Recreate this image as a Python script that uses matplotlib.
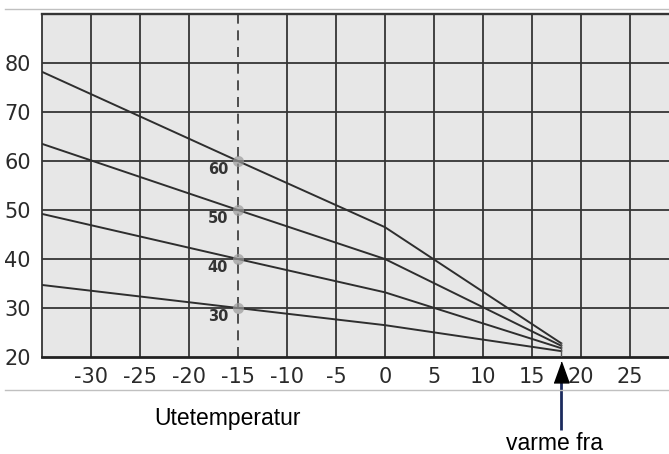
import matplotlib
matplotlib.use('Agg')
import matplotlib.pyplot as plt
from matplotlib.lines import Line2D

# outdoor temperature vs. flow temperature (heating curves)
x_pts = [-35, -15, 0, 18]
kurve_60 = [78.2, 60, 46.5, 22.8]
kurve_50 = [63.5, 50, 40, 22.3]
kurve_40 = [49.2, 40, 33.2, 21.8]
kurve_30 = [34.7, 30, 26.5, 21.2]
kurver = [kurve_60, kurve_50, kurve_40, kurve_30]
kurve_navn = ['60', '50', '40', '30']

dim_temp = -15
varme_fra = 18
x_ticks = [-30, -25, -20, -15, -10, -5, 0, 5, 10, 15, 20, 25]
y_ticks = [20, 30, 40, 50, 60, 70, 80]

fig = plt.figure(figsize=(6.69, 4.54), dpi=100)
ax = fig.add_axes([42/669, 97/454, 627/669, 343/454])
ax.set_facecolor('#e7e7e7')
ax.set_xlim(-35, 29)
ax.set_ylim(20, 90)

gridc = '#353535'
for xv in x_ticks:
    if xv != dim_temp:
        ax.axvline(xv, color=gridc, lw=1.3, zorder=1)
for yv in y_ticks[1:]:
    ax.axhline(yv, color=gridc, lw=1.3, zorder=1)

# dimensioning outdoor temperature
ax.axvline(dim_temp, color='#333333', lw=1.2, dashes=(6, 4), zorder=2)

for navn, kurve in zip(kurve_navn, kurver):
    ax.plot(x_pts, kurve, color='#2e2e2e', lw=1.4, zorder=3)
    val = float(navn)
    ax.plot([dim_temp], [val], 'o', ms=8, color='#9a9a9a', alpha=0.7, mec='none', zorder=4)
    ax.text(dim_temp - 1.0, val - 1.8, navn, ha='right', va='center',
            fontsize=10.5, fontweight='bold', color='#333333', zorder=5)

ax.plot([varme_fra, varme_fra], [20, kurve_60[-1]], color='#555555', lw=1.0, zorder=3)

ax.spines['right'].set_visible(False)
ax.spines['left'].set_color(gridc)
ax.spines['left'].set_linewidth(1.3)
ax.spines['top'].set_color(gridc)
ax.spines['top'].set_linewidth(1.7)
ax.spines['bottom'].set_color('#222222')
ax.spines['bottom'].set_linewidth(2.0)

ax.set_xticks(x_ticks)
ax.set_xticklabels([str(v) for v in x_ticks])
ax.set_yticks(y_ticks)
ax.tick_params(length=0, labelsize=15, labelcolor='#2a2a2a')
ax.tick_params(axis='x', pad=7)
ax.tick_params(axis='y', pad=8)

# arrow marking where heating starts
trans = ax.get_xaxis_transform()
ax.plot([varme_fra, varme_fra], [-0.07, -0.213], color='#1c2b5e', lw=2.0,
        transform=trans, clip_on=False, solid_capstyle='butt')
tri = [(-0.36, -0.5), (0.36, -0.5), (0.0, 0.5)]
ax.plot([varme_fra], [-0.045], marker=tri, ms=15, color='black', mec='black',
        transform=trans, clip_on=False, zorder=6)

fig.text(227/669, 29/454, 'Utetemperatur', ha='center', va='baseline',
         fontsize=16.5, family='Liberation Sans', color='black')
fig.text(555/669, 4/454, 'varme fra', ha='center', va='baseline',
         fontsize=16.5, family='Liberation Sans', color='black')

# thin frame lines of the original picture
for yf in [445/454, 64/454]:
    fig.add_artist(Line2D([5/669, 1.0], [yf, yf], color='#c0c0c0', lw=1.0))

fig.savefig('out.png', dpi=100)
